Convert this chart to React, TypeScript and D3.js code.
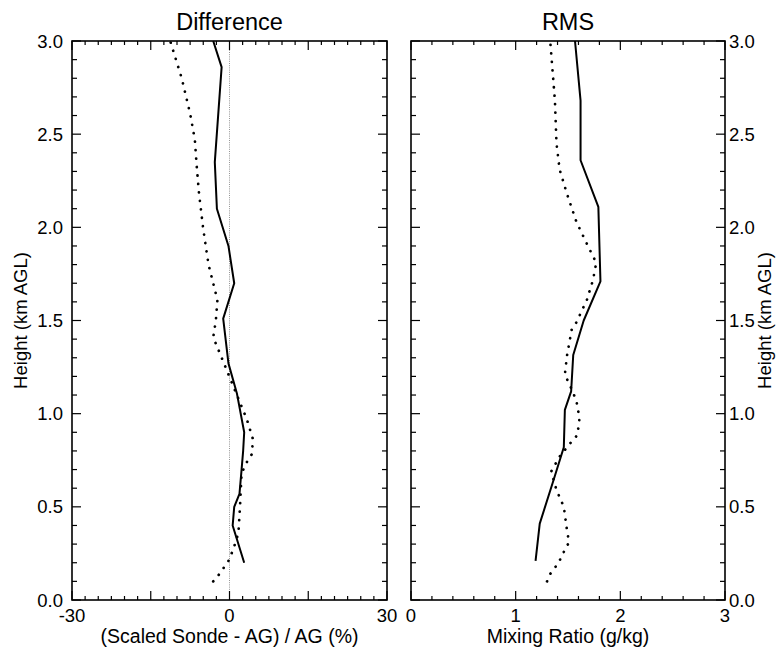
import React from 'react'
import * as d3 from 'd3'

// Difference panel (percent)
const diffSolidH = [0.20, 0.40, 0.50, 0.57, 0.70, 0.80, 0.90, 1.11, 1.27, 1.51, 1.70, 1.90, 2.10, 2.35, 2.86, 3.00]
const diffSolidV = [2.8, 0.6, 0.9, 1.9, 2.3, 2.6, 2.8, 1.4, -0.2, -1.2, 0.9, -0.2, -2.4, -2.8, -1.5, -3.1]

const diffDotH = [0.10, 0.14, 0.21, 0.27, 0.36, 0.50, 0.68, 0.74, 0.78, 0.86, 0.97, 1.10, 1.19, 1.28, 1.41, 1.50, 1.61, 1.80, 1.99, 2.18, 2.33, 2.47, 2.61, 2.80, 3.00]
const diffDotV = [-3.1, -1.9, -0.2, 0.7, 1.7, 2.0, 2.3, 3.3, 4.2, 4.5, 3.3, 1.4, 0.1, -1.2, -3.1, -2.6, -2.3, -4.0, -5.0, -5.8, -6.25, -6.6, -7.5, -9.1, -11.3]

// RMS panel (g/kg)
const rmsSolidH = [0.21, 0.41, 0.64, 0.82, 1.02, 1.12, 1.315, 1.50, 1.71, 2.11, 2.36, 2.68, 3.00]
const rmsSolidV = [1.19, 1.23, 1.36, 1.46, 1.47, 1.53, 1.55, 1.65, 1.81, 1.79, 1.62, 1.62, 1.567]

const rmsDotH = [0.10, 0.14, 0.20, 0.27, 0.31, 0.376, 0.50, 0.59, 0.69, 0.77, 0.84, 0.886, 0.975, 1.07, 1.15, 1.21, 1.31, 1.45, 1.49, 1.61, 1.72, 1.81, 1.90, 2.03, 2.18, 2.31, 2.45, 2.68, 3.00]
const rmsDotV = [1.30, 1.33, 1.41, 1.47, 1.51, 1.49, 1.46, 1.39, 1.34, 1.42, 1.52, 1.59, 1.61, 1.58, 1.52, 1.47, 1.49, 1.535, 1.58, 1.68, 1.74, 1.77, 1.69, 1.58, 1.49, 1.42, 1.39, 1.375, 1.33]

const heightTicks = ['0.0', '0.5', '1.0', '1.5', '2.0', '2.5', '3.0']
const diffTickLabels = ['-30', '0', '30']
const rmsTickLabels = ['0', '1', '2', '3']

const FONT = "'Liberation Sans', Arial, Helvetica, sans-serif"
const W = 777, H = 650
const top = 41, bottom = 600

const y = d3.scaleLinear().domain([0, 3]).range([bottom, top])
const xDiff = d3.scaleLinear().domain([-30, 30]).range([72, 387])
const xRms = d3.scaleLinear().domain([0, 3]).range([411, 725])

const zip = (h: number[], v: number[]) => h.map((hh, i) => [v[i], hh] as [number, number])

function Panel({ x, minorStep, majorStep, labels, title, xTitle, series, zeroLine, rightLabels }: any) {
  const [x0, x1] = x.range()
  const [d0, d1] = x.domain()
  const line = d3.line<[number, number]>().x(d => x(d[0])).y(d => y(d[1]))
  const xt = d3.range(d0, d1 + 1e-6, minorStep)
  const yt = d3.range(0, 3.0001, 0.1)
  const isMajorX = (v: number) => Math.abs(v / majorStep - Math.round(v / majorStep)) < 1e-6
  const isMajorY = (v: number) => Math.abs(v / 0.5 - Math.round(v / 0.5)) < 1e-6
  const cx = (x0 + x1) / 2
  return (
    <g>
      {zeroLine && (
        <line x1={x(0)} x2={x(0)} y1={top} y2={bottom} stroke="#777" strokeWidth={0.8} strokeDasharray="1,1.2" />
      )}
      {series.map((s: any, i: number) => (
        <path key={i} d={line(s.data) || ''} fill="none" stroke="#000"
          strokeWidth={s.dotted ? 2.7 : 2}
          strokeDasharray={s.dotted ? '0.1,8.4' : undefined}
          strokeLinecap={s.dotted ? 'round' : 'butt'}
          strokeLinejoin="round" />
      ))}
      <rect x={x0} y={top} width={x1 - x0} height={bottom - top} fill="none" stroke="#000" strokeWidth={1.6} />
      {xt.map((v, i) => {
        const len = isMajorX(v) ? 9 : 4
        return (
          <g key={'x' + i}>
            <line x1={x(v)} x2={x(v)} y1={bottom} y2={bottom - len} stroke="#000" strokeWidth={1.2} />
            <line x1={x(v)} x2={x(v)} y1={top} y2={top + len} stroke="#000" strokeWidth={1.2} />
          </g>
        )
      })}
      {yt.map((v, i) => {
        const len = isMajorY(v) ? 9 : 5
        return (
          <g key={'y' + i}>
            <line x1={x0} x2={x0 + len} y1={y(v)} y2={y(v)} stroke="#000" strokeWidth={1.2} />
            <line x1={x1} x2={x1 - len} y1={y(v)} y2={y(v)} stroke="#000" strokeWidth={1.2} />
          </g>
        )
      })}
      {labels.map((l: string) => (
        <text key={l} x={x(+l)} y={622} textAnchor="middle" fontSize={18.5}>{l}</text>
      ))}
      {heightTicks.map(t => (
        rightLabels
          ? <text key={t} x={x1 + 4} y={y(+t) + 6.5} textAnchor="start" fontSize={18.5}>{t}</text>
          : <text key={t} x={x0 - 9} y={y(+t) + 6.5} textAnchor="end" fontSize={18.5}>{t}</text>
      ))}
      <text x={cx} y={30} textAnchor="middle" fontSize={23.5}>{title}</text>
      <text x={cx} y={643} textAnchor="middle" fontSize={19.5}>{xTitle}</text>
      <text transform={`translate(${rightLabels ? 771 : 27},${(top + bottom) / 2}) rotate(-90)`}
        textAnchor="middle" fontSize={18.5}>Height (km AGL)</text>
    </g>
  )
}

export default function App() {
  return (
    <svg width={W} height={H} style={{ position: 'absolute', left: 0, top: 0, background: '#fff' }}
      fontFamily={FONT}>
      <rect width={W} height={H} fill="#fff" />
      <Panel x={xDiff} minorStep={2.5} majorStep={15} labels={diffTickLabels}
        title="Difference" xTitle="(Scaled Sonde - AG) / AG (%)" zeroLine
        series={[{ data: zip(diffSolidH, diffSolidV) }, { data: zip(diffDotH, diffDotV), dotted: true }]} />
      <Panel x={xRms} minorStep={0.2} majorStep={1} labels={rmsTickLabels}
        title="RMS" xTitle="Mixing Ratio (g/kg)" rightLabels
        series={[{ data: zip(rmsSolidH, rmsSolidV) }, { data: zip(rmsDotH, rmsDotV), dotted: true }]} />
    </svg>
  )
}
